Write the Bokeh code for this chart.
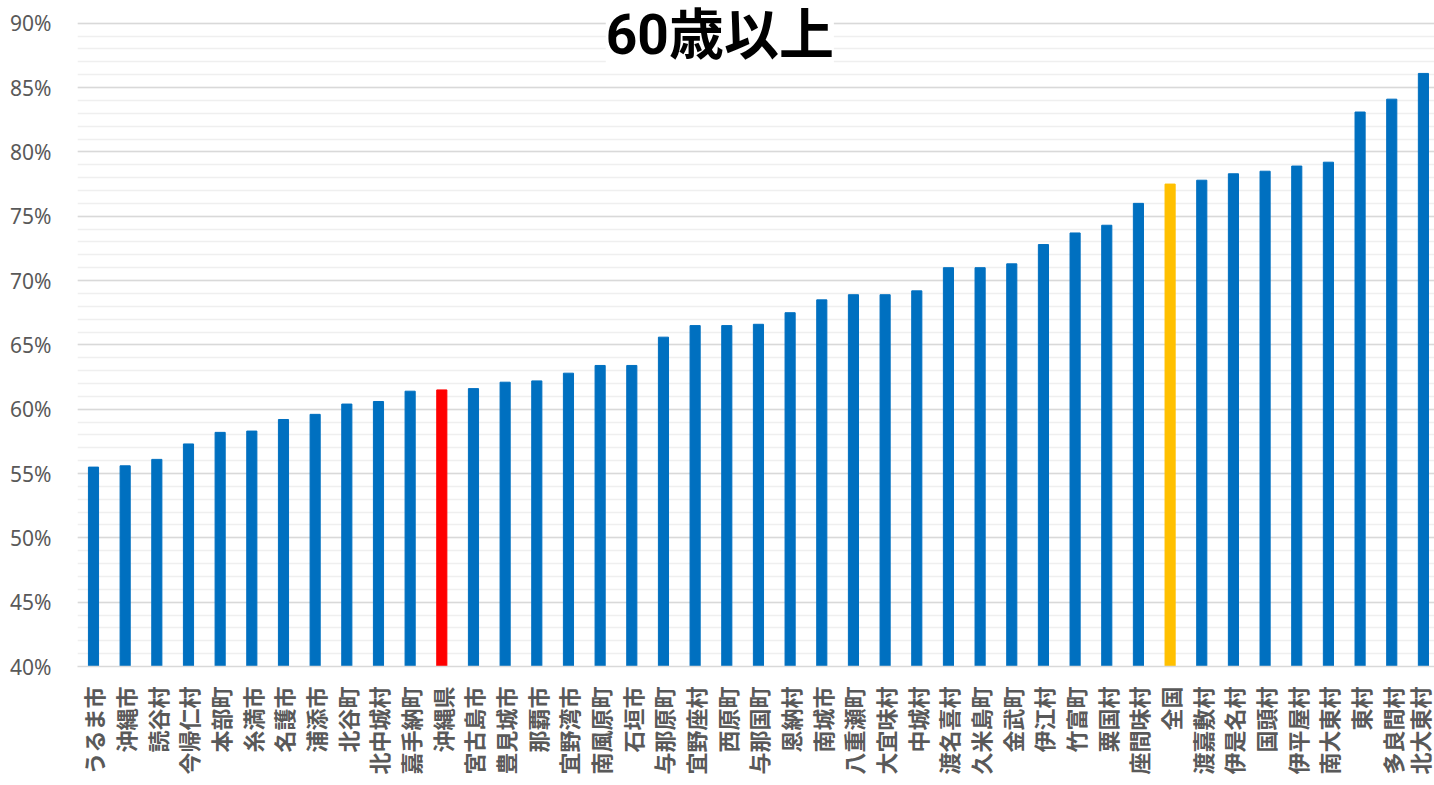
from bokeh.plotting import figure
from bokeh.models import ColumnDataSource, Range1d, FixedTicker, PrintfTickFormatter, Label
from bokeh.embed import file_html
from bokeh.resources import INLINE
import math

names = ["うるま市", "沖縄市", "読谷村", "今帰仁村", "本部町", "糸満市", "名護市", "浦添市",
         "北谷町", "北中城村", "嘉手納町", "沖縄県", "宮古島市", "豊見城市", "那覇市", "宜野湾市",
         "南風原町", "石垣市", "与那原町", "宜野座村", "西原町", "与那国町", "恩納村", "南城市",
         "八重瀬町", "大宜味村", "中城村", "渡名喜村", "久米島町", "金武町", "伊江村", "竹富町",
         "粟国村", "座間味村", "全国", "渡嘉敷村", "伊是名村", "国頭村", "伊平屋村", "南大東村",
         "東村", "多良間村", "北大東村"]
values = [55.5, 55.6, 56.1, 57.3, 58.2, 58.3, 59.2, 59.6,
          60.4, 60.6, 61.4, 61.5, 61.6, 62.1, 62.2, 62.8,
          63.4, 63.4, 65.6, 66.5, 66.5, 66.6, 67.5, 68.5,
          68.9, 68.9, 69.2, 71.0, 71.0, 71.3, 72.8, 73.7,
          74.3, 76.0, 77.5, 77.8, 78.3, 78.5, 78.9, 79.2,
          83.1, 84.1, 86.1]
title_text = "60歳以上"
y_ticks = [40, 45, 50, 55, 60, 65, 70, 75, 80, 85, 90]
y_minor = list(range(40, 91))

BLUE, RED, YELLOW = "#0070C0", "#FF0000", "#FFC000"
colors = [RED if n == "沖縄県" else YELLOW if n == "全国" else BLUE for n in names]
xs = list(range(len(names)))

src = ColumnDataSource(dict(x=xs, top=values, color=colors, name=names))

p = figure(width=1434, height=777, output_backend="svg", toolbar_location=None,
           x_range=Range1d(-0.505, 42.35), y_range=Range1d(40, 90 + 23 / 13),
           min_border_left=77, min_border_right=0, min_border_top=0, min_border_bottom=104)
p.outline_line_color = None
p.background_fill_color = "white"

p.vbar(x="x", top="top", bottom=40, width=0.32, color="color", source=src)

p.xgrid.grid_line_color = None
p.ygrid.ticker = FixedTicker(ticks=y_ticks, minor_ticks=y_minor)
p.ygrid.grid_line_color = "#d9d9d9"
p.ygrid.grid_line_width = 1.5
p.ygrid.minor_grid_line_color = "#efefef"
p.ygrid.minor_grid_line_width = 1.5
p.ygrid.level = "underlay"

p.yaxis.ticker = FixedTicker(ticks=y_ticks)
p.yaxis.formatter = PrintfTickFormatter(format="%d%%")
p.yaxis.axis_line_color = None
p.yaxis.major_tick_line_color = None
p.yaxis.minor_tick_line_color = None
p.yaxis.major_label_standoff = 20
p.yaxis.major_label_text_font = "Noto Sans"
p.yaxis.major_label_text_font_size = "21px"
p.yaxis.major_label_text_color = "#595959"

p.xaxis.ticker = FixedTicker(ticks=xs)
p.xaxis.major_label_overrides = {i: n for i, n in enumerate(names)}
p.xaxis.major_label_orientation = math.pi / 2
p.xaxis.axis_line_color = "#d9d9d9"
p.xaxis.axis_line_width = 1.5
p.xaxis.major_tick_line_color = None
p.xaxis.minor_tick_line_color = None
p.xaxis.major_label_standoff = 14
p.xaxis.major_label_text_font = "Noto Sans CJK JP"
p.xaxis.major_label_text_font_style = "bold"
p.xaxis.major_label_text_font_size = "22px"
p.xaxis.major_label_text_color = "#595959"

title = Label(x=19.78, y=89.1, text=title_text, text_align="center", text_baseline="middle",
              text_font="Roboto, 'Noto Sans CJK JP'", text_font_style="bold", text_font_size="55px",
              text_line_height=1.0,
              text_color="black", background_fill_color="white", background_fill_alpha=1.0)
p.add_layout(title)

open("out.html", "w").write(file_html(p, INLINE))
